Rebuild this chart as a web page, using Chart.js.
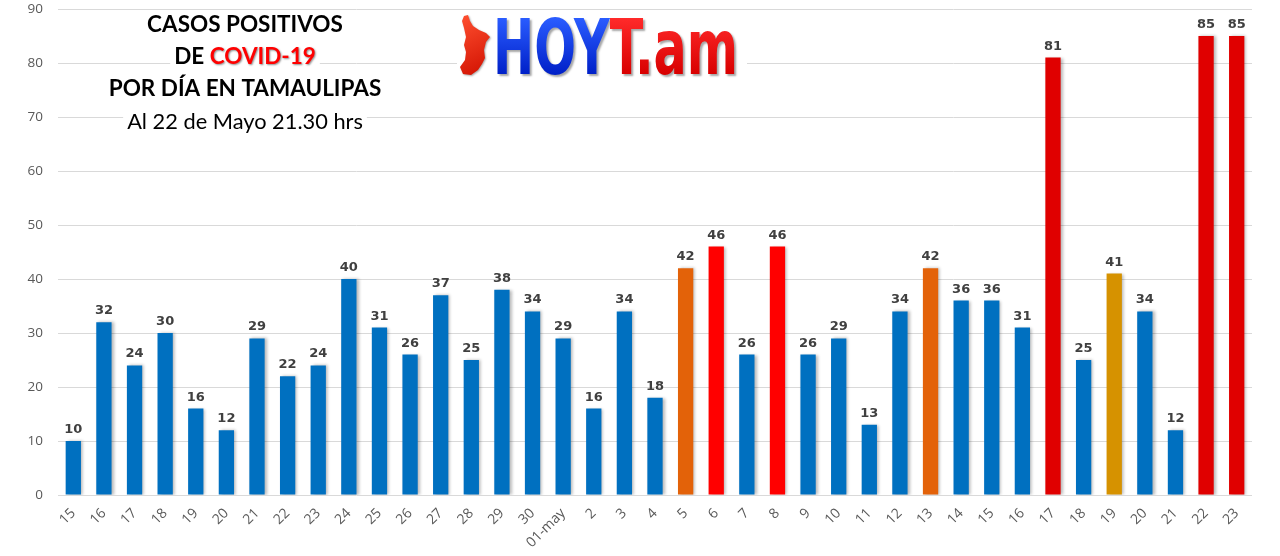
<!DOCTYPE html>
<html>
<head>
<meta charset="utf-8">
<script src="https://cdn.jsdelivr.net/npm/chart.js@4/dist/chart.umd.min.js"></script>
<style>
  html, body { margin: 0; padding: 0; background: #ffffff; }
  #wrap { width: 1280px; height: 556px; position: relative; }
</style>
</head>
<body>
<div id="wrap"><canvas id="grafica" width="1280" height="556"></canvas></div>
<script>
// Días (abril 15 – mayo 23)
const dias = ['15','16','17','18','19','20','21','22','23','24','25','26','27','28','29','30',
  '01-may','2','3','4','5','6','7','8','9','10','11','12','13','14','15','16','17','18','19','20','21','22','23'];

// Casos positivos por día
const casos = [10,32,24,30,16,12,29,22,24,40,31,26,37,25,38,34,
  29,16,34,18,42,46,26,46,26,29,13,34,42,36,36,31,81,25,41,34,12,85,85];

// Marcas del eje vertical
const marcasY = [0,10,20,30,40,50,60,70,80,90];

// Colores de cada barra
const AZUL = '#0070c0', NARANJA = '#e36209', ROJO = '#ff0000', ROJO_OSC = '#e00000', OCRE = '#d69200';
const coloresBarras = dias.map(() => AZUL);
coloresBarras[20] = NARANJA;
coloresBarras[21] = ROJO;
coloresBarras[23] = ROJO;
coloresBarras[28] = NARANJA;
coloresBarras[32] = ROJO_OSC;
coloresBarras[34] = OCRE;
coloresBarras[37] = ROJO_OSC;
coloresBarras[38] = ROJO_OSC;

// Sombra suave detrás de las barras
const sombraBarras = {
  id: 'sombraBarras',
  beforeDatasetsDraw(chart) {
    const ctx = chart.ctx;
    ctx.save();
    ctx.shadowColor = 'rgba(0,0,0,0.28)';
    ctx.shadowBlur = 3;
    ctx.shadowOffsetX = 2;
    ctx.shadowOffsetY = 0;
  },
  afterDatasetsDraw(chart) {
    chart.ctx.restore();
  }
};

// Etiquetas con el valor encima de cada barra
const etiquetasValor = {
  id: 'etiquetasValor',
  afterDatasetsDraw(chart) {
    const ctx = chart.ctx;
    const meta = chart.getDatasetMeta(0);
    ctx.save();
    ctx.font = 'bold 13px "DejaVu Sans"';
    ctx.fillStyle = '#404040';
    ctx.textAlign = 'center';
    ctx.textBaseline = 'alphabetic';
    meta.data.forEach((bar, i) => {
      ctx.fillText(String(casos[i]), bar.x, bar.y - 8);
    });
    ctx.restore();
  }
};

// Título y logotipo
const encabezado = {
  id: 'encabezado',
  afterDraw(chart) {
    const ctx = chart.ctx;
    ctx.save();

    // Título
    const cx = 245;
    const negrita = 'bold 22.5px Lato';
    const lineas = [
      { y: 25, partes: [{ t: 'CASOS POSITIVOS', c: '#000', f: negrita }] },
      { y: 57, partes: [{ t: 'DE ', c: '#000', f: negrita }, { t: 'COVID-19', c: '#ff0000', f: negrita, sombra: true }] },
      { y: 89, partes: [{ t: 'POR DÍA EN TAMAULIPAS', c: '#000', f: negrita }] },
      { y: 122, partes: [{ t: 'Al 22 de Mayo 21.30 hrs', c: '#000', f: '21.8px Lato' }] }
    ];
    ctx.textBaseline = 'middle';
    ctx.textAlign = 'left';
    lineas.forEach(l => {
      let total = 0;
      l.partes.forEach(p => { ctx.font = p.f; p.w = ctx.measureText(p.t).width; total += p.w; });
      let x = cx - total / 2;
      ctx.fillStyle = '#ffffff';
      ctx.fillRect(x - 4, l.y - 13, total + 8, 26);
      l.partes.forEach(p => {
        ctx.font = p.f;
        ctx.save();
        if (p.sombra) {
          ctx.shadowColor = 'rgba(0,0,0,0.45)';
          ctx.shadowBlur = 2;
          ctx.shadowOffsetX = 1;
          ctx.shadowOffsetY = 1;
        }
        ctx.fillStyle = p.c;
        ctx.fillText(p.t, x, l.y);
        ctx.restore();
        x += p.w;
      });
    });

    // Logotipo
    ctx.fillStyle = '#ffffff';
    ctx.fillRect(457, 12, 290, 70);

    // Silueta del estado
    const silueta = [[464,16],[468,15],[470,21],[473,26],[479,30],[486,33],[490,37],[486,42],[484,50],
      [485,58],[482,64],[478,70],[471,75],[463,74],[460,67],[465,60],[466,52],[464,45],[466,37],[464,28],[462,21]];
    ctx.save();
    ctx.shadowColor = 'rgba(0,0,0,0.35)';
    ctx.shadowBlur = 2;
    ctx.shadowOffsetX = 1;
    ctx.shadowOffsetY = 1;
    const gS = ctx.createLinearGradient(460, 15, 490, 75);
    gS.addColorStop(0, '#ff5030');
    gS.addColorStop(1, '#d01000');
    ctx.fillStyle = gS;
    ctx.beginPath();
    silueta.forEach((p, i) => i ? ctx.lineTo(p[0], p[1]) : ctx.moveTo(p[0], p[1]));
    ctx.closePath();
    ctx.fill();
    ctx.restore();

    ctx.font = 'bold 77px "DejaVu Sans Condensed"';
    ctx.textBaseline = 'alphabetic';
    const wHoy = ctx.measureText('HOY').width;
    const wTam = ctx.measureText('T.am').width;
    const escala = 245 / (wHoy + wTam);
    ctx.save();
    ctx.translate(493, 74);
    ctx.scale(escala, 1);
    ctx.shadowColor = 'rgba(0,0,0,0.35)';
    ctx.shadowBlur = 2;
    ctx.shadowOffsetX = 2;
    ctx.shadowOffsetY = 2;
    const gA = ctx.createLinearGradient(0, -56, 0, 0);
    gA.addColorStop(0, '#2a5cff');
    gA.addColorStop(1, '#0020c8');
    ctx.fillStyle = gA;
    ctx.fillText('HOY', 0, 0);
    const gR = ctx.createLinearGradient(0, -56, 0, 0);
    gR.addColorStop(0, '#ff2a2a');
    gR.addColorStop(1, '#d80000');
    ctx.fillStyle = gR;
    ctx.fillText('T.am', wHoy, 0);
    ctx.restore();

    ctx.restore();
  }
};

new Chart(document.getElementById('grafica'), {
  type: 'bar',
  data: {
    labels: dias,
    datasets: [{
      data: casos,
      backgroundColor: coloresBarras,
      borderWidth: 0,
      barPercentage: 0.5,
      categoryPercentage: 1.0
    }]
  },
  options: {
    responsive: false,
    devicePixelRatio: 1,
    animation: false,
    layout: { padding: { top: 9, right: 28, left: 0, bottom: 0 } },
    plugins: {
      legend: { display: false },
      tooltip: { enabled: false },
      title: { display: false }
    },
    scales: {
      x: {
        grid: { display: false },
        border: { display: false },
        ticks: {
          color: '#595959',
          font: { family: 'Open Sans', size: 14 },
          maxRotation: 45,
          minRotation: 45,
          padding: 2,
          autoSkip: false
        },
        afterFit(scale) { scale.height = 61; }
      },
      y: {
        min: 0,
        max: 90,
        afterBuildTicks(scale) { scale.ticks = marcasY.map(v => ({ value: v })); },
        grid: { color: '#d9d9d9', lineWidth: 1, drawTicks: false },
        border: { display: false },
        ticks: {
          color: '#595959',
          font: { family: 'Open Sans', size: 13.5 },
          padding: 15
        },
        afterFit(scale) {
          scale.width = 58;
          scale.paddingTop = 0;
          scale.paddingBottom = 0;
        }
      }
    }
  },
  plugins: [sombraBarras, etiquetasValor, encabezado]
});
</script>
</body>
</html>
